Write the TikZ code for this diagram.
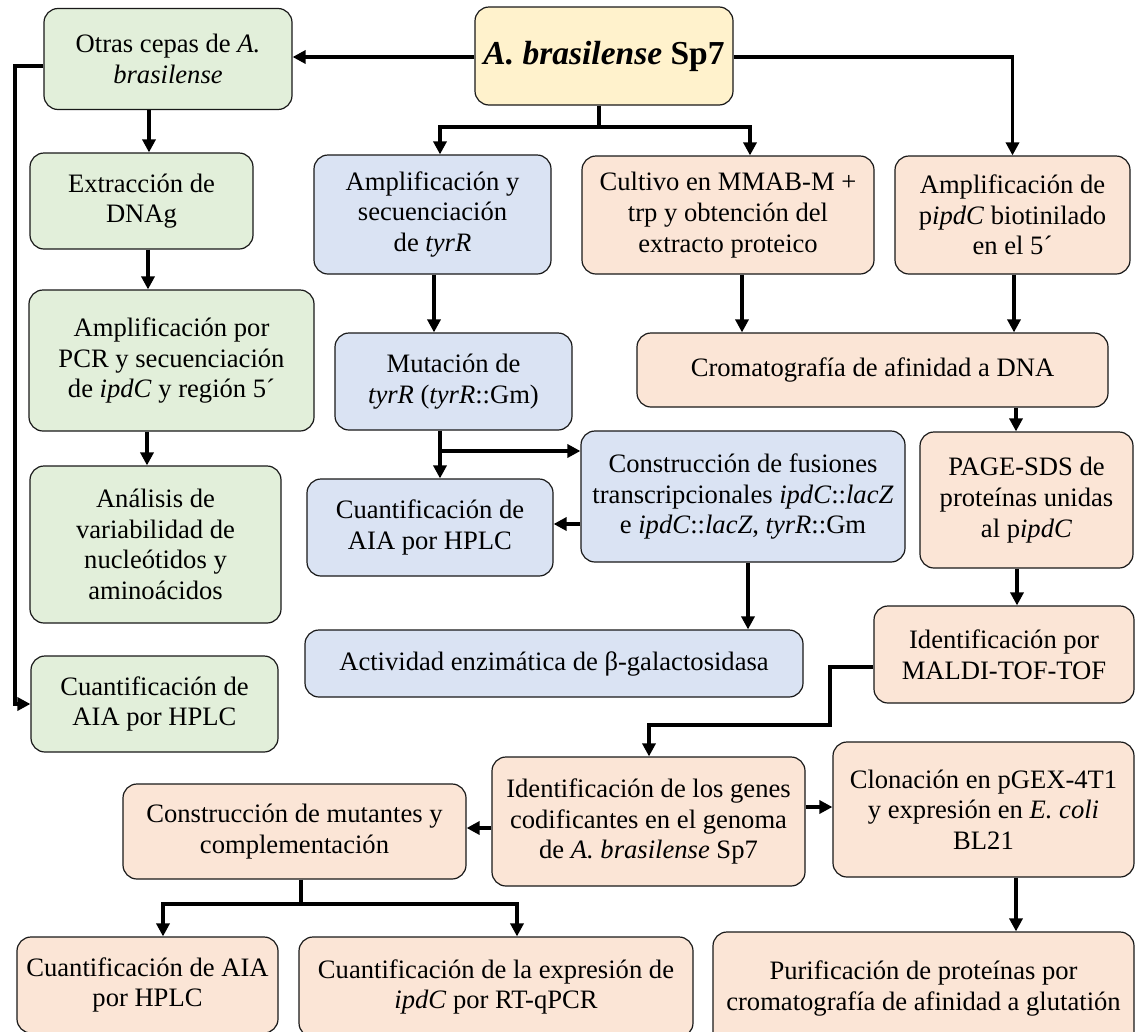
\documentclass[tikz,border=0pt]{standalone}
\usepackage{fontspec}
\setmainfont{Liberation Serif}
\usetikzlibrary{arrows.meta}
\definecolor{cgreen}{HTML}{E2EFDA}
\definecolor{cblue}{HTML}{DAE3F3}
\definecolor{csalmon}{HTML}{FBE5D6}
\definecolor{cyellow}{HTML}{FFF2CC}
\tikzset{
  box/.style={draw=black!90, line width=1.2pt, rounded corners=14pt, align=center, inner sep=0pt,
    font=\fontsize{26.6}{30.6}\selectfont},
  gbox/.style={box, fill=cgreen},
  bbox/.style={box, fill=cblue},
  sbox/.style={box, fill=csalmon},
  ybox/.style={box, fill=cyellow},
  conn/.style={line width=3.8pt},
  arr/.style={conn, -{Triangle[length=13pt,width=13pt]}}
}
\begin{document}
\begin{tikzpicture}[x=1pt,y=-1pt]
\useasboundingbox (0,0) rectangle (1135,1031);
\clip (0,0) rectangle (1135,1031);
\fill[white] (0,0) rectangle (1135,1031);
% nodes
\node[gbox, minimum width=248pt, minimum height=101pt] (otras) at (168,59) {Otras cepas de \textit{A.}\\\textit{brasilense}};
\node[ybox, minimum width=258pt, minimum height=98pt, font=\fontsize{33.5}{37}\selectfont\bfseries] (sp7) at (604,56) {\textit{A. brasilense} Sp7};
\node[gbox, minimum width=223pt, minimum height=96pt] (extr) at (141.5,201) {Extracción de\\DNAg};
\node[gbox, minimum width=285pt, minimum height=141pt] (amppcr) at (171.5,360.5) {Amplificación por\\PCR y secuenciación\\de \textit{ipdC} y región 5´};
\node[gbox, minimum width=251pt, minimum height=157pt] (analisis) at (155.5,544.5) {Análisis de\\variabilidad de\\nucleótidos y\\aminoácidos};
\node[gbox, minimum width=247pt, minimum height=96pt] (cuantg) at (154.5,704) {Cuantificación de\\AIA por HPLC};
\node[bbox, minimum width=237pt, minimum height=119pt] (tyrr) at (432.5,214.5) {Amplificación y\\secuenciación\\de \textit{tyrR}};
\node[sbox, minimum width=292pt, minimum height=118pt] (cultivo) at (728,215) {Cultivo en MMAB-M +\\trp y obtención del\\extracto proteico};
\node[sbox, minimum width=235pt, minimum height=118pt] (pipdc) at (1012.5,215) {Amplificación de\\p\textit{ipdC} biotinilado\\en el 5´};
\node[bbox, minimum width=237pt, minimum height=97pt] (mutacion) at (453.5,381.5) {Mutación de\\\textit{tyrR} (\textit{tyrR}::Gm)};
\node[bbox, minimum width=246pt, minimum height=97pt] (cuantb) at (430,527.5) {Cuantificación de\\AIA por HPLC};
\node[bbox, minimum width=324pt, minimum height=131pt] (fusiones) at (743,496.5) {Construcción de fusiones\\transcripcionales \textit{ipdC}::\textit{lacZ}\\e \textit{ipdC}::\textit{lacZ}, \textit{tyrR}::Gm};
\node[bbox, minimum width=498pt, minimum height=67pt] (actividad) at (554,663.5) {Actividad enzimática de β-galactosidasa};
\node[sbox, minimum width=471pt, minimum height=74pt] (croma) at (872.5,370) {Cromatografía de afinidad a DNA};
\node[sbox, minimum width=213pt, minimum height=136pt] (page) at (1026.5,500) {PAGE-SDS de\\proteínas unidas\\al p\textit{ipdC}};
\node[sbox, minimum width=260pt, minimum height=97pt] (maldi) at (1004,654.5) {Identificación por\\MALDI-TOF-TOF};
\node[sbox, minimum width=313pt, minimum height=129pt] (idgenes) at (648.5,821.5) {Identificación de los genes\\codificantes en el genoma\\de \textit{A. brasilense} Sp7};
\node[sbox, minimum width=301pt, minimum height=135pt] (clonacion) at (983.5,809.5) {Clonación en pGEX-4T1\\y expresión en \textit{E. coli}\\BL21};
\node[sbox, minimum width=343pt, minimum height=95pt] (mutantes) at (294.5,831.5) {Construcción de mutantes y\\complementación};
\node[sbox, minimum width=261pt, minimum height=96pt] (cuants) at (147.5,985) {Cuantificación de AIA\\por HPLC};
\node[sbox, minimum width=394pt, minimum height=100pt] (expresion) at (496,987) {Cuantificación de la expresión de\\\textit{ipdC} por RT-qPCR};
\node[sbox, minimum width=421pt, minimum height=113pt] (purif) at (923.5,988.5) {Purificación de proteínas por\\cromatografía de afinidad a glutatión};
% helper coordinates
\coordinate (y57) at (0,57);
\coordinate (j1) at (599,127);
\coordinate (t1) at (440,127);
\coordinate (t2) at (750,127);
\coordinate (xa) at (149,0);
\coordinate (xb) at (148,0);
\coordinate (xc) at (147,0);
\coordinate (L1) at (15,66);
\coordinate (xd) at (434,0);
\coordinate (m1) at (440,451);
\coordinate (f1) at (0,524);
\coordinate (xe) at (748,0);
\coordinate (xf) at (742,0);
\coordinate (xg) at (1014,0);
\coordinate (xh) at (1016,0);
\coordinate (xi) at (1017,0);
\coordinate (q1) at (830,667);
\coordinate (q2) at (830,725);
\coordinate (q3) at (649,725);
\coordinate (y828) at (0,828);
\coordinate (y807) at (0,807);
\coordinate (b1) at (301,904);
\coordinate (b2) at (163,904);
\coordinate (b3) at (517,904);
% connectors
\draw[arr] (sp7.west |- y57) -- (otras.east |- y57);
\draw[arr] (sp7.east |- y57) -| (pipdc.north);
\draw[conn] (sp7.south -| j1) -- (j1);
\draw[arr] (j1) -- (t1) -- (t1 |- tyrr.north);
\draw[arr] (j1) -- (t2) -- (t2 |- cultivo.north);
\draw[arr] (otras.south -| xa) -- (extr.north -| xa);
\draw[arr] (extr.south -| xb) -- (amppcr.north -| xb);
\draw[arr] (amppcr.south -| xc) -- (analisis.north -| xc);
\draw[arr] (otras.west |- L1) -- (L1) |- (cuantg.west);
\draw[arr] (tyrr.south -| xd) -- (mutacion.north -| xd);
\draw[arr] (mutacion.south -| m1) -- (cuantb.north -| m1);
\draw[arr] (m1) -- (m1 -| fusiones.west);
\draw[arr] (fusiones.west |- f1) -- (cuantb.east |- f1);
\draw[arr] (fusiones.south -| xe) -- (actividad.north -| xe);
\draw[arr] (cultivo.south -| xf) -- (croma.north -| xf);
\draw[arr] (pipdc.south -| xg) -- (croma.north -| xg);
\draw[arr] (croma.south -| xh) -- (page.north -| xh);
\draw[arr] (page.south -| xi) -- (maldi.north -| xi);
\draw[arr] (maldi.west |- q1) -- (q1) -- (q2) -- (q3) -- (q3 |- idgenes.north);
\draw[arr] (idgenes.west |- y828) -- (mutantes.east |- y828);
\draw[arr] (idgenes.east |- y807) -- (clonacion.west |- y807);
\draw[conn] (mutantes.south -| b1) -- (b1);
\draw[arr] (b2) -- (b3) -- (b3 |- expresion.north);
\draw[arr] (b3) -- (b2) -- (b2 |- cuants.north);
\draw[arr] (clonacion.south -| xh) -- (purif.north -| xh);
\end{tikzpicture}
\end{document}
